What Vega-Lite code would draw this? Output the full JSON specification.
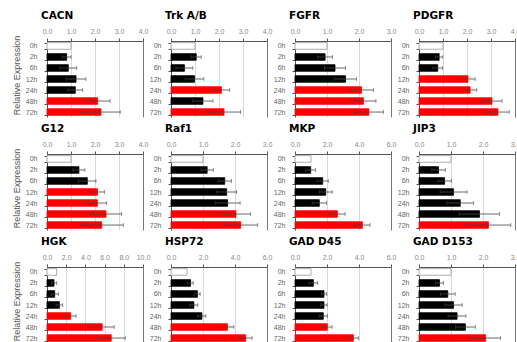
{
"$schema": "https://vega.github.io/schema/vega-lite/v6.json",
"padding": {"left": 12, "top": 10, "right": 0, "bottom": 0},
"datasets": {"d": [
{"g":"CACN","t":"0h","v":1.0,"s":"ref"},
{"g":"CACN","t":"2h","v":0.82,"lo":0.64,"hi":1.00,"s":"ns"},
{"g":"CACN","t":"6h","v":0.89,"lo":0.54,"hi":1.24,"s":"ns"},
{"g":"CACN","t":"12h","v":1.21,"lo":0.80,"hi":1.62,"s":"ns"},
{"g":"CACN","t":"24h","v":1.18,"lo":0.87,"hi":1.49,"s":"ns"},
{"g":"CACN","t":"48h","v":2.11,"lo":1.59,"hi":2.63,"s":"sig"},
{"g":"CACN","t":"72h","v":2.25,"lo":1.45,"hi":3.05,"s":"sig"},
{"g":"Trk A/B","t":"0h","v":1.0,"s":"ref"},
{"g":"Trk A/B","t":"2h","v":1.05,"lo":0.84,"hi":1.26,"s":"ns"},
{"g":"Trk A/B","t":"6h","v":0.56,"lo":0.21,"hi":0.91,"s":"ns"},
{"g":"Trk A/B","t":"12h","v":0.98,"lo":0.59,"hi":1.37,"s":"ns"},
{"g":"Trk A/B","t":"24h","v":2.10,"lo":1.75,"hi":2.45,"s":"sig"},
{"g":"Trk A/B","t":"48h","v":1.33,"lo":0.91,"hi":1.75,"s":"ns"},
{"g":"Trk A/B","t":"72h","v":2.21,"lo":1.52,"hi":2.90,"s":"sig"},
{"g":"FGFR","t":"0h","v":1.0,"s":"ref"},
{"g":"FGFR","t":"2h","v":0.94,"lo":0.71,"hi":1.17,"s":"ns"},
{"g":"FGFR","t":"6h","v":1.25,"lo":0.92,"hi":1.58,"s":"ns"},
{"g":"FGFR","t":"12h","v":1.58,"lo":1.24,"hi":1.92,"s":"ns"},
{"g":"FGFR","t":"24h","v":2.08,"lo":1.71,"hi":2.45,"s":"sig"},
{"g":"FGFR","t":"48h","v":2.14,"lo":1.75,"hi":2.53,"s":"sig"},
{"g":"FGFR","t":"72h","v":2.31,"lo":1.86,"hi":2.76,"s":"sig"},
{"g":"PDGFR","t":"0h","v":1.0,"s":"ref"},
{"g":"PDGFR","t":"2h","v":0.84,"lo":0.69,"hi":0.99,"s":"ns"},
{"g":"PDGFR","t":"6h","v":0.78,"lo":0.58,"hi":0.98,"s":"ns"},
{"g":"PDGFR","t":"12h","v":2.04,"lo":1.74,"hi":2.34,"s":"sig"},
{"g":"PDGFR","t":"24h","v":2.13,"lo":1.85,"hi":2.41,"s":"sig"},
{"g":"PDGFR","t":"48h","v":3.04,"lo":2.62,"hi":3.46,"s":"sig"},
{"g":"PDGFR","t":"72h","v":3.29,"lo":2.82,"hi":3.76,"s":"sig"},
{"g":"G12","t":"0h","v":1.0,"s":"ref"},
{"g":"G12","t":"2h","v":1.33,"lo":1.08,"hi":1.58,"s":"ns"},
{"g":"G12","t":"6h","v":1.68,"lo":1.32,"hi":2.04,"s":"ns"},
{"g":"G12","t":"12h","v":2.10,"lo":1.81,"hi":2.39,"s":"sig"},
{"g":"G12","t":"24h","v":2.10,"lo":1.71,"hi":2.49,"s":"sig"},
{"g":"G12","t":"48h","v":2.46,"lo":1.81,"hi":3.11,"s":"sig"},
{"g":"G12","t":"72h","v":2.28,"lo":1.38,"hi":3.18,"s":"sig"},
{"g":"Raf1","t":"0h","v":1.0,"s":"ref"},
{"g":"Raf1","t":"2h","v":1.13,"lo":0.94,"hi":1.32,"s":"ns"},
{"g":"Raf1","t":"6h","v":1.68,"lo":1.47,"hi":1.89,"s":"ns"},
{"g":"Raf1","t":"12h","v":1.74,"lo":1.43,"hi":2.05,"s":"ns"},
{"g":"Raf1","t":"24h","v":1.77,"lo":1.38,"hi":2.16,"s":"ns"},
{"g":"Raf1","t":"48h","v":2.03,"lo":1.57,"hi":2.49,"s":"sig"},
{"g":"Raf1","t":"72h","v":2.18,"lo":1.65,"hi":2.71,"s":"sig"},
{"g":"MKP","t":"0h","v":1.0,"s":"ref"},
{"g":"MKP","t":"2h","v":0.98,"lo":0.68,"hi":1.28,"s":"ns"},
{"g":"MKP","t":"6h","v":1.73,"lo":1.38,"hi":2.08,"s":"ns"},
{"g":"MKP","t":"12h","v":1.92,"lo":1.52,"hi":2.32,"s":"ns"},
{"g":"MKP","t":"24h","v":1.52,"lo":1.07,"hi":1.97,"s":"ns"},
{"g":"MKP","t":"48h","v":2.65,"lo":2.17,"hi":3.13,"s":"sig"},
{"g":"MKP","t":"72h","v":4.21,"lo":3.73,"hi":4.69,"s":"sig"},
{"g":"JIP3","t":"0h","v":1.0,"s":"ref"},
{"g":"JIP3","t":"2h","v":0.61,"lo":0.40,"hi":0.82,"s":"ns"},
{"g":"JIP3","t":"6h","v":0.80,"lo":0.59,"hi":1.01,"s":"ns"},
{"g":"JIP3","t":"12h","v":1.08,"lo":0.66,"hi":1.50,"s":"ns"},
{"g":"JIP3","t":"24h","v":1.29,"lo":0.87,"hi":1.71,"s":"ns"},
{"g":"JIP3","t":"48h","v":1.89,"lo":1.26,"hi":2.52,"s":"ns"},
{"g":"JIP3","t":"72h","v":2.17,"lo":1.47,"hi":2.87,"s":"sig"},
{"g":"HGK","t":"0h","v":1.0,"s":"ref"},
{"g":"HGK","t":"2h","v":0.73,"lo":0.45,"hi":1.01,"s":"ns"},
{"g":"HGK","t":"6h","v":0.80,"lo":0.42,"hi":1.18,"s":"ns"},
{"g":"HGK","t":"12h","v":1.29,"lo":0.94,"hi":1.64,"s":"ns"},
{"g":"HGK","t":"24h","v":2.47,"lo":1.91,"hi":3.03,"s":"sig"},
{"g":"HGK","t":"48h","v":5.75,"lo":4.50,"hi":7.00,"s":"sig"},
{"g":"HGK","t":"72h","v":6.69,"lo":5.23,"hi":8.15,"s":"sig"},
{"g":"HSP72","t":"0h","v":1.0,"s":"ref"},
{"g":"HSP72","t":"2h","v":1.22,"lo":1.05,"hi":1.39,"s":"ns"},
{"g":"HSP72","t":"6h","v":1.65,"lo":1.48,"hi":1.82,"s":"ns"},
{"g":"HSP72","t":"12h","v":1.43,"lo":1.18,"hi":1.68,"s":"ns"},
{"g":"HSP72","t":"24h","v":1.93,"lo":1.68,"hi":2.18,"s":"ns"},
{"g":"HSP72","t":"48h","v":3.53,"lo":3.13,"hi":3.93,"s":"sig"},
{"g":"HSP72","t":"72h","v":4.67,"lo":4.27,"hi":5.07,"s":"sig"},
{"g":"GAD D45","t":"0h","v":1.0,"s":"ref"},
{"g":"GAD D45","t":"2h","v":1.15,"lo":0.88,"hi":1.42,"s":"ns"},
{"g":"GAD D45","t":"6h","v":1.81,"lo":1.64,"hi":1.98,"s":"ns"},
{"g":"GAD D45","t":"12h","v":1.81,"lo":1.61,"hi":2.01,"s":"ns"},
{"g":"GAD D45","t":"24h","v":1.77,"lo":1.50,"hi":2.04,"s":"ns"},
{"g":"GAD D45","t":"48h","v":2.02,"lo":1.72,"hi":2.32,"s":"sig"},
{"g":"GAD D45","t":"72h","v":3.65,"lo":3.34,"hi":3.96,"s":"sig"},
{"g":"GAD D153","t":"0h","v":1.0,"s":"ref"},
{"g":"GAD D153","t":"2h","v":0.64,"lo":0.51,"hi":0.77,"s":"ns"},
{"g":"GAD D153","t":"6h","v":0.90,"lo":0.67,"hi":1.13,"s":"ns"},
{"g":"GAD D153","t":"12h","v":1.08,"lo":0.81,"hi":1.35,"s":"ns"},
{"g":"GAD D153","t":"24h","v":1.19,"lo":0.91,"hi":1.47,"s":"ns"},
{"g":"GAD D153","t":"48h","v":1.45,"lo":1.14,"hi":1.76,"s":"ns"},
{"g":"GAD D153","t":"72h","v":2.08,"lo":1.61,"hi":2.55,"s":"sig"}
]},
"data": {"name": "d"},
"config": {
 "font": "Liberation Sans",
 "view": {"stroke": null},
 "title": {"anchor": "start", "frame": "group", "font": "DejaVu Sans", "fontSize": 10.5, "fontWeight": "bold", "color": "#000", "dx": -6, "offset": 6},
 "axisX": {"title": null, "format": ".1f", "domainColor": "#555", "tickColor": "#555", "tickSize": 3, "labelFontSize": 7, "labelColor": "#888", "labelPadding": 4, "labelOverlap": false, "labelFlush": false, "labelFont": "Liberation Sans Narrow, Liberation Sans", "grid": true, "gridWidth": 0.8},
 "axisY": {"title": null, "domainColor": "#555", "tickColor": "#555", "tickSize": 3, "tickBand": "extent", "labelFontSize": 7, "labelColor": "#666", "labelPadding": 7, "labelFont": "Liberation Sans Narrow, Liberation Sans", "titleFontSize": 9, "titleFontWeight": "normal", "titleColor": "#555", "titlePadding": 4, "titleY": 34, "grid": false},
 "bar": {"strokeWidth": 0.8},
 "rule": {"color": "#444", "strokeWidth": 0.8},
 "tick": {"color": "#444", "thickness": 0.8, "size": 4}
},
"spacing": 6,
"resolve": {"scale": {"x": "independent", "y": "independent", "fill": "shared", "stroke": "shared"}},
"vconcat": [
{"hconcat": [
{"title": "CACN", "width": 96, "height": 76, "transform": [{"filter": "datum.g === 'CACN'"}],
 "encoding": {"y": {"field": "t", "type": "ordinal", "sort": ["0h","2h","6h","12h","24h","48h","72h"], "scale": {"paddingInner": 0.4, "paddingOuter": 0.15}, "axis": {"title": "Relative Expression"}}},
 "layer": [
  {"mark": "bar", "encoding": {"x": {"field": "v", "type": "quantitative", "scale": {"domain": [0,4]}, "axis": {"orient": "top", "values": [0,1,2,3,4], "gridColor": {"condition": {"test": "datum.value === 4", "value": "#555"}, "value": "#cfcfcf"}}},
   "fill": {"field": "s", "type": "nominal", "scale": {"domain": ["ref","ns","sig"], "range": ["#ffffff","#000000","#ff0000"]}, "legend": null},
   "stroke": {"field": "s", "type": "nominal", "scale": {"domain": ["ref","ns","sig"], "range": ["#999999","#000000","#ff0000"]}, "legend": null}}},
  {"transform": [{"filter": "isValid(datum.hi)"}], "mark": "rule", "encoding": {"x": {"field": "lo", "type": "quantitative", "scale": {"domain": [0,4]}, "axis": {"orient": "top", "values": [0,1,2,3,4], "gridColor": {"condition": {"test": "datum.value === 4", "value": "#555"}, "value": "#cfcfcf"}}}, "x2": {"field": "hi"}}},
  {"transform": [{"filter": "isValid(datum.hi)"}], "mark": "tick", "encoding": {"x": {"field": "lo", "type": "quantitative", "scale": {"domain": [0,4]}, "axis": {"orient": "top", "values": [0,1,2,3,4], "gridColor": {"condition": {"test": "datum.value === 4", "value": "#555"}, "value": "#cfcfcf"}}}}},
  {"transform": [{"filter": "isValid(datum.hi)"}], "mark": "tick", "encoding": {"x": {"field": "hi", "type": "quantitative", "scale": {"domain": [0,4]}, "axis": {"orient": "top", "values": [0,1,2,3,4], "gridColor": {"condition": {"test": "datum.value === 4", "value": "#555"}, "value": "#cfcfcf"}}}}}
 ]},
{"title": "Trk A/B", "width": 96, "height": 76, "transform": [{"filter": "datum.g === 'Trk A/B'"}],
 "encoding": {"y": {"field": "t", "type": "ordinal", "sort": ["0h","2h","6h","12h","24h","48h","72h"], "scale": {"paddingInner": 0.4, "paddingOuter": 0.15}}},
 "layer": [
  {"mark": "bar", "encoding": {"x": {"field": "v", "type": "quantitative", "scale": {"domain": [0,4]}, "axis": {"orient": "top", "values": [0,1,2,3,4], "gridColor": {"condition": {"test": "datum.value === 4", "value": "#555"}, "value": "#cfcfcf"}}},
   "fill": {"field": "s", "type": "nominal", "scale": {"domain": ["ref","ns","sig"], "range": ["#ffffff","#000000","#ff0000"]}, "legend": null},
   "stroke": {"field": "s", "type": "nominal", "scale": {"domain": ["ref","ns","sig"], "range": ["#999999","#000000","#ff0000"]}, "legend": null}}},
  {"transform": [{"filter": "isValid(datum.hi)"}], "mark": "rule", "encoding": {"x": {"field": "lo", "type": "quantitative", "scale": {"domain": [0,4]}, "axis": {"orient": "top", "values": [0,1,2,3,4], "gridColor": {"condition": {"test": "datum.value === 4", "value": "#555"}, "value": "#cfcfcf"}}}, "x2": {"field": "hi"}}},
  {"transform": [{"filter": "isValid(datum.hi)"}], "mark": "tick", "encoding": {"x": {"field": "lo", "type": "quantitative", "scale": {"domain": [0,4]}, "axis": {"orient": "top", "values": [0,1,2,3,4], "gridColor": {"condition": {"test": "datum.value === 4", "value": "#555"}, "value": "#cfcfcf"}}}}},
  {"transform": [{"filter": "isValid(datum.hi)"}], "mark": "tick", "encoding": {"x": {"field": "hi", "type": "quantitative", "scale": {"domain": [0,4]}, "axis": {"orient": "top", "values": [0,1,2,3,4], "gridColor": {"condition": {"test": "datum.value === 4", "value": "#555"}, "value": "#cfcfcf"}}}}}
 ]},
{"title": "FGFR", "width": 96, "height": 76, "transform": [{"filter": "datum.g === 'FGFR'"}],
 "encoding": {"y": {"field": "t", "type": "ordinal", "sort": ["0h","2h","6h","12h","24h","48h","72h"], "scale": {"paddingInner": 0.4, "paddingOuter": 0.15}}},
 "layer": [
  {"mark": "bar", "encoding": {"x": {"field": "v", "type": "quantitative", "scale": {"domain": [0,3]}, "axis": {"orient": "top", "values": [0,1,2,3], "gridColor": {"condition": {"test": "datum.value === 3", "value": "#555"}, "value": "#cfcfcf"}}},
   "fill": {"field": "s", "type": "nominal", "scale": {"domain": ["ref","ns","sig"], "range": ["#ffffff","#000000","#ff0000"]}, "legend": null},
   "stroke": {"field": "s", "type": "nominal", "scale": {"domain": ["ref","ns","sig"], "range": ["#999999","#000000","#ff0000"]}, "legend": null}}},
  {"transform": [{"filter": "isValid(datum.hi)"}], "mark": "rule", "encoding": {"x": {"field": "lo", "type": "quantitative", "scale": {"domain": [0,3]}, "axis": {"orient": "top", "values": [0,1,2,3], "gridColor": {"condition": {"test": "datum.value === 3", "value": "#555"}, "value": "#cfcfcf"}}}, "x2": {"field": "hi"}}},
  {"transform": [{"filter": "isValid(datum.hi)"}], "mark": "tick", "encoding": {"x": {"field": "lo", "type": "quantitative", "scale": {"domain": [0,3]}, "axis": {"orient": "top", "values": [0,1,2,3], "gridColor": {"condition": {"test": "datum.value === 3", "value": "#555"}, "value": "#cfcfcf"}}}}},
  {"transform": [{"filter": "isValid(datum.hi)"}], "mark": "tick", "encoding": {"x": {"field": "hi", "type": "quantitative", "scale": {"domain": [0,3]}, "axis": {"orient": "top", "values": [0,1,2,3], "gridColor": {"condition": {"test": "datum.value === 3", "value": "#555"}, "value": "#cfcfcf"}}}}}
 ]},
{"title": "PDGFR", "width": 96, "height": 76, "transform": [{"filter": "datum.g === 'PDGFR'"}],
 "encoding": {"y": {"field": "t", "type": "ordinal", "sort": ["0h","2h","6h","12h","24h","48h","72h"], "scale": {"paddingInner": 0.4, "paddingOuter": 0.15}}},
 "layer": [
  {"mark": "bar", "encoding": {"x": {"field": "v", "type": "quantitative", "scale": {"domain": [0,4]}, "axis": {"orient": "top", "values": [0,1,2,3,4], "gridColor": {"condition": {"test": "datum.value === 4", "value": "#555"}, "value": "#cfcfcf"}}},
   "fill": {"field": "s", "type": "nominal", "scale": {"domain": ["ref","ns","sig"], "range": ["#ffffff","#000000","#ff0000"]}, "legend": null},
   "stroke": {"field": "s", "type": "nominal", "scale": {"domain": ["ref","ns","sig"], "range": ["#999999","#000000","#ff0000"]}, "legend": null}}},
  {"transform": [{"filter": "isValid(datum.hi)"}], "mark": "rule", "encoding": {"x": {"field": "lo", "type": "quantitative", "scale": {"domain": [0,4]}, "axis": {"orient": "top", "values": [0,1,2,3,4], "gridColor": {"condition": {"test": "datum.value === 4", "value": "#555"}, "value": "#cfcfcf"}}}, "x2": {"field": "hi"}}},
  {"transform": [{"filter": "isValid(datum.hi)"}], "mark": "tick", "encoding": {"x": {"field": "lo", "type": "quantitative", "scale": {"domain": [0,4]}, "axis": {"orient": "top", "values": [0,1,2,3,4], "gridColor": {"condition": {"test": "datum.value === 4", "value": "#555"}, "value": "#cfcfcf"}}}}},
  {"transform": [{"filter": "isValid(datum.hi)"}], "mark": "tick", "encoding": {"x": {"field": "hi", "type": "quantitative", "scale": {"domain": [0,4]}, "axis": {"orient": "top", "values": [0,1,2,3,4], "gridColor": {"condition": {"test": "datum.value === 4", "value": "#555"}, "value": "#cfcfcf"}}}}}
 ]}
], "spacing": 28, "bounds": "flush", "resolve": {"scale": {"x": "independent", "y": "independent"}}},
{"hconcat": [
{"title": "G12", "width": 96, "height": 76, "transform": [{"filter": "datum.g === 'G12'"}],
 "encoding": {"y": {"field": "t", "type": "ordinal", "sort": ["0h","2h","6h","12h","24h","48h","72h"], "scale": {"paddingInner": 0.4, "paddingOuter": 0.15}, "axis": {"title": "Relative Expression"}}},
 "layer": [
  {"mark": "bar", "encoding": {"x": {"field": "v", "type": "quantitative", "scale": {"domain": [0,4]}, "axis": {"orient": "top", "values": [0,1,2,3,4], "gridColor": {"condition": {"test": "datum.value === 4", "value": "#555"}, "value": "#cfcfcf"}}},
   "fill": {"field": "s", "type": "nominal", "scale": {"domain": ["ref","ns","sig"], "range": ["#ffffff","#000000","#ff0000"]}, "legend": null},
   "stroke": {"field": "s", "type": "nominal", "scale": {"domain": ["ref","ns","sig"], "range": ["#999999","#000000","#ff0000"]}, "legend": null}}},
  {"transform": [{"filter": "isValid(datum.hi)"}], "mark": "rule", "encoding": {"x": {"field": "lo", "type": "quantitative", "scale": {"domain": [0,4]}, "axis": {"orient": "top", "values": [0,1,2,3,4], "gridColor": {"condition": {"test": "datum.value === 4", "value": "#555"}, "value": "#cfcfcf"}}}, "x2": {"field": "hi"}}},
  {"transform": [{"filter": "isValid(datum.hi)"}], "mark": "tick", "encoding": {"x": {"field": "lo", "type": "quantitative", "scale": {"domain": [0,4]}, "axis": {"orient": "top", "values": [0,1,2,3,4], "gridColor": {"condition": {"test": "datum.value === 4", "value": "#555"}, "value": "#cfcfcf"}}}}},
  {"transform": [{"filter": "isValid(datum.hi)"}], "mark": "tick", "encoding": {"x": {"field": "hi", "type": "quantitative", "scale": {"domain": [0,4]}, "axis": {"orient": "top", "values": [0,1,2,3,4], "gridColor": {"condition": {"test": "datum.value === 4", "value": "#555"}, "value": "#cfcfcf"}}}}}
 ]},
{"title": "Raf1", "width": 96, "height": 76, "transform": [{"filter": "datum.g === 'Raf1'"}],
 "encoding": {"y": {"field": "t", "type": "ordinal", "sort": ["0h","2h","6h","12h","24h","48h","72h"], "scale": {"paddingInner": 0.4, "paddingOuter": 0.15}}},
 "layer": [
  {"mark": "bar", "encoding": {"x": {"field": "v", "type": "quantitative", "scale": {"domain": [0,3]}, "axis": {"orient": "top", "values": [0,1,2,3], "gridColor": {"condition": {"test": "datum.value === 3", "value": "#555"}, "value": "#cfcfcf"}}},
   "fill": {"field": "s", "type": "nominal", "scale": {"domain": ["ref","ns","sig"], "range": ["#ffffff","#000000","#ff0000"]}, "legend": null},
   "stroke": {"field": "s", "type": "nominal", "scale": {"domain": ["ref","ns","sig"], "range": ["#999999","#000000","#ff0000"]}, "legend": null}}},
  {"transform": [{"filter": "isValid(datum.hi)"}], "mark": "rule", "encoding": {"x": {"field": "lo", "type": "quantitative", "scale": {"domain": [0,3]}, "axis": {"orient": "top", "values": [0,1,2,3], "gridColor": {"condition": {"test": "datum.value === 3", "value": "#555"}, "value": "#cfcfcf"}}}, "x2": {"field": "hi"}}},
  {"transform": [{"filter": "isValid(datum.hi)"}], "mark": "tick", "encoding": {"x": {"field": "lo", "type": "quantitative", "scale": {"domain": [0,3]}, "axis": {"orient": "top", "values": [0,1,2,3], "gridColor": {"condition": {"test": "datum.value === 3", "value": "#555"}, "value": "#cfcfcf"}}}}},
  {"transform": [{"filter": "isValid(datum.hi)"}], "mark": "tick", "encoding": {"x": {"field": "hi", "type": "quantitative", "scale": {"domain": [0,3]}, "axis": {"orient": "top", "values": [0,1,2,3], "gridColor": {"condition": {"test": "datum.value === 3", "value": "#555"}, "value": "#cfcfcf"}}}}}
 ]},
{"title": "MKP", "width": 96, "height": 76, "transform": [{"filter": "datum.g === 'MKP'"}],
 "encoding": {"y": {"field": "t", "type": "ordinal", "sort": ["0h","2h","6h","12h","24h","48h","72h"], "scale": {"paddingInner": 0.4, "paddingOuter": 0.15}}},
 "layer": [
  {"mark": "bar", "encoding": {"x": {"field": "v", "type": "quantitative", "scale": {"domain": [0,6]}, "axis": {"orient": "top", "values": [0,2,4,6], "gridColor": {"condition": {"test": "datum.value === 6", "value": "#555"}, "value": "#cfcfcf"}}},
   "fill": {"field": "s", "type": "nominal", "scale": {"domain": ["ref","ns","sig"], "range": ["#ffffff","#000000","#ff0000"]}, "legend": null},
   "stroke": {"field": "s", "type": "nominal", "scale": {"domain": ["ref","ns","sig"], "range": ["#999999","#000000","#ff0000"]}, "legend": null}}},
  {"transform": [{"filter": "isValid(datum.hi)"}], "mark": "rule", "encoding": {"x": {"field": "lo", "type": "quantitative", "scale": {"domain": [0,6]}, "axis": {"orient": "top", "values": [0,2,4,6], "gridColor": {"condition": {"test": "datum.value === 6", "value": "#555"}, "value": "#cfcfcf"}}}, "x2": {"field": "hi"}}},
  {"transform": [{"filter": "isValid(datum.hi)"}], "mark": "tick", "encoding": {"x": {"field": "lo", "type": "quantitative", "scale": {"domain": [0,6]}, "axis": {"orient": "top", "values": [0,2,4,6], "gridColor": {"condition": {"test": "datum.value === 6", "value": "#555"}, "value": "#cfcfcf"}}}}},
  {"transform": [{"filter": "isValid(datum.hi)"}], "mark": "tick", "encoding": {"x": {"field": "hi", "type": "quantitative", "scale": {"domain": [0,6]}, "axis": {"orient": "top", "values": [0,2,4,6], "gridColor": {"condition": {"test": "datum.value === 6", "value": "#555"}, "value": "#cfcfcf"}}}}}
 ]},
{"title": "JIP3", "width": 96, "height": 76, "transform": [{"filter": "datum.g === 'JIP3'"}],
 "encoding": {"y": {"field": "t", "type": "ordinal", "sort": ["0h","2h","6h","12h","24h","48h","72h"], "scale": {"paddingInner": 0.4, "paddingOuter": 0.15}}},
 "layer": [
  {"mark": "bar", "encoding": {"x": {"field": "v", "type": "quantitative", "scale": {"domain": [0,3]}, "axis": {"orient": "top", "values": [0,1,2,3], "gridColor": {"condition": {"test": "datum.value === 3", "value": "#555"}, "value": "#cfcfcf"}}},
   "fill": {"field": "s", "type": "nominal", "scale": {"domain": ["ref","ns","sig"], "range": ["#ffffff","#000000","#ff0000"]}, "legend": null},
   "stroke": {"field": "s", "type": "nominal", "scale": {"domain": ["ref","ns","sig"], "range": ["#999999","#000000","#ff0000"]}, "legend": null}}},
  {"transform": [{"filter": "isValid(datum.hi)"}], "mark": "rule", "encoding": {"x": {"field": "lo", "type": "quantitative", "scale": {"domain": [0,3]}, "axis": {"orient": "top", "values": [0,1,2,3], "gridColor": {"condition": {"test": "datum.value === 3", "value": "#555"}, "value": "#cfcfcf"}}}, "x2": {"field": "hi"}}},
  {"transform": [{"filter": "isValid(datum.hi)"}], "mark": "tick", "encoding": {"x": {"field": "lo", "type": "quantitative", "scale": {"domain": [0,3]}, "axis": {"orient": "top", "values": [0,1,2,3], "gridColor": {"condition": {"test": "datum.value === 3", "value": "#555"}, "value": "#cfcfcf"}}}}},
  {"transform": [{"filter": "isValid(datum.hi)"}], "mark": "tick", "encoding": {"x": {"field": "hi", "type": "quantitative", "scale": {"domain": [0,3]}, "axis": {"orient": "top", "values": [0,1,2,3], "gridColor": {"condition": {"test": "datum.value === 3", "value": "#555"}, "value": "#cfcfcf"}}}}}
 ]}
], "spacing": 28, "bounds": "flush", "resolve": {"scale": {"x": "independent", "y": "independent"}}},
{"hconcat": [
{"title": "HGK", "width": 96, "height": 76, "transform": [{"filter": "datum.g === 'HGK'"}],
 "encoding": {"y": {"field": "t", "type": "ordinal", "sort": ["0h","2h","6h","12h","24h","48h","72h"], "scale": {"paddingInner": 0.4, "paddingOuter": 0.15}, "axis": {"title": "Relative Expression"}}},
 "layer": [
  {"mark": "bar", "encoding": {"x": {"field": "v", "type": "quantitative", "scale": {"domain": [0,10]}, "axis": {"orient": "top", "values": [0,2,4,6,8,10], "gridColor": {"condition": {"test": "datum.value === 10", "value": "#555"}, "value": "#cfcfcf"}}},
   "fill": {"field": "s", "type": "nominal", "scale": {"domain": ["ref","ns","sig"], "range": ["#ffffff","#000000","#ff0000"]}, "legend": null},
   "stroke": {"field": "s", "type": "nominal", "scale": {"domain": ["ref","ns","sig"], "range": ["#999999","#000000","#ff0000"]}, "legend": null}}},
  {"transform": [{"filter": "isValid(datum.hi)"}], "mark": "rule", "encoding": {"x": {"field": "lo", "type": "quantitative", "scale": {"domain": [0,10]}, "axis": {"orient": "top", "values": [0,2,4,6,8,10], "gridColor": {"condition": {"test": "datum.value === 10", "value": "#555"}, "value": "#cfcfcf"}}}, "x2": {"field": "hi"}}},
  {"transform": [{"filter": "isValid(datum.hi)"}], "mark": "tick", "encoding": {"x": {"field": "lo", "type": "quantitative", "scale": {"domain": [0,10]}, "axis": {"orient": "top", "values": [0,2,4,6,8,10], "gridColor": {"condition": {"test": "datum.value === 10", "value": "#555"}, "value": "#cfcfcf"}}}}},
  {"transform": [{"filter": "isValid(datum.hi)"}], "mark": "tick", "encoding": {"x": {"field": "hi", "type": "quantitative", "scale": {"domain": [0,10]}, "axis": {"orient": "top", "values": [0,2,4,6,8,10], "gridColor": {"condition": {"test": "datum.value === 10", "value": "#555"}, "value": "#cfcfcf"}}}}}
 ]},
{"title": "HSP72", "width": 96, "height": 76, "transform": [{"filter": "datum.g === 'HSP72'"}],
 "encoding": {"y": {"field": "t", "type": "ordinal", "sort": ["0h","2h","6h","12h","24h","48h","72h"], "scale": {"paddingInner": 0.4, "paddingOuter": 0.15}}},
 "layer": [
  {"mark": "bar", "encoding": {"x": {"field": "v", "type": "quantitative", "scale": {"domain": [0,6]}, "axis": {"orient": "top", "values": [0,2,4,6], "gridColor": {"condition": {"test": "datum.value === 6", "value": "#555"}, "value": "#cfcfcf"}}},
   "fill": {"field": "s", "type": "nominal", "scale": {"domain": ["ref","ns","sig"], "range": ["#ffffff","#000000","#ff0000"]}, "legend": null},
   "stroke": {"field": "s", "type": "nominal", "scale": {"domain": ["ref","ns","sig"], "range": ["#999999","#000000","#ff0000"]}, "legend": null}}},
  {"transform": [{"filter": "isValid(datum.hi)"}], "mark": "rule", "encoding": {"x": {"field": "lo", "type": "quantitative", "scale": {"domain": [0,6]}, "axis": {"orient": "top", "values": [0,2,4,6], "gridColor": {"condition": {"test": "datum.value === 6", "value": "#555"}, "value": "#cfcfcf"}}}, "x2": {"field": "hi"}}},
  {"transform": [{"filter": "isValid(datum.hi)"}], "mark": "tick", "encoding": {"x": {"field": "lo", "type": "quantitative", "scale": {"domain": [0,6]}, "axis": {"orient": "top", "values": [0,2,4,6], "gridColor": {"condition": {"test": "datum.value === 6", "value": "#555"}, "value": "#cfcfcf"}}}}},
  {"transform": [{"filter": "isValid(datum.hi)"}], "mark": "tick", "encoding": {"x": {"field": "hi", "type": "quantitative", "scale": {"domain": [0,6]}, "axis": {"orient": "top", "values": [0,2,4,6], "gridColor": {"condition": {"test": "datum.value === 6", "value": "#555"}, "value": "#cfcfcf"}}}}}
 ]},
{"title": "GAD D45", "width": 96, "height": 76, "transform": [{"filter": "datum.g === 'GAD D45'"}],
 "encoding": {"y": {"field": "t", "type": "ordinal", "sort": ["0h","2h","6h","12h","24h","48h","72h"], "scale": {"paddingInner": 0.4, "paddingOuter": 0.15}}},
 "layer": [
  {"mark": "bar", "encoding": {"x": {"field": "v", "type": "quantitative", "scale": {"domain": [0,6]}, "axis": {"orient": "top", "values": [0,2,4,6], "gridColor": {"condition": {"test": "datum.value === 6", "value": "#555"}, "value": "#cfcfcf"}}},
   "fill": {"field": "s", "type": "nominal", "scale": {"domain": ["ref","ns","sig"], "range": ["#ffffff","#000000","#ff0000"]}, "legend": null},
   "stroke": {"field": "s", "type": "nominal", "scale": {"domain": ["ref","ns","sig"], "range": ["#999999","#000000","#ff0000"]}, "legend": null}}},
  {"transform": [{"filter": "isValid(datum.hi)"}], "mark": "rule", "encoding": {"x": {"field": "lo", "type": "quantitative", "scale": {"domain": [0,6]}, "axis": {"orient": "top", "values": [0,2,4,6], "gridColor": {"condition": {"test": "datum.value === 6", "value": "#555"}, "value": "#cfcfcf"}}}, "x2": {"field": "hi"}}},
  {"transform": [{"filter": "isValid(datum.hi)"}], "mark": "tick", "encoding": {"x": {"field": "lo", "type": "quantitative", "scale": {"domain": [0,6]}, "axis": {"orient": "top", "values": [0,2,4,6], "gridColor": {"condition": {"test": "datum.value === 6", "value": "#555"}, "value": "#cfcfcf"}}}}},
  {"transform": [{"filter": "isValid(datum.hi)"}], "mark": "tick", "encoding": {"x": {"field": "hi", "type": "quantitative", "scale": {"domain": [0,6]}, "axis": {"orient": "top", "values": [0,2,4,6], "gridColor": {"condition": {"test": "datum.value === 6", "value": "#555"}, "value": "#cfcfcf"}}}}}
 ]},
{"title": "GAD D153", "width": 96, "height": 76, "transform": [{"filter": "datum.g === 'GAD D153'"}],
 "encoding": {"y": {"field": "t", "type": "ordinal", "sort": ["0h","2h","6h","12h","24h","48h","72h"], "scale": {"paddingInner": 0.4, "paddingOuter": 0.15}}},
 "layer": [
  {"mark": "bar", "encoding": {"x": {"field": "v", "type": "quantitative", "scale": {"domain": [0,3]}, "axis": {"orient": "top", "values": [0,1,2,3], "gridColor": {"condition": {"test": "datum.value === 3", "value": "#555"}, "value": "#cfcfcf"}}},
   "fill": {"field": "s", "type": "nominal", "scale": {"domain": ["ref","ns","sig"], "range": ["#ffffff","#000000","#ff0000"]}, "legend": null},
   "stroke": {"field": "s", "type": "nominal", "scale": {"domain": ["ref","ns","sig"], "range": ["#999999","#000000","#ff0000"]}, "legend": null}}},
  {"transform": [{"filter": "isValid(datum.hi)"}], "mark": "rule", "encoding": {"x": {"field": "lo", "type": "quantitative", "scale": {"domain": [0,3]}, "axis": {"orient": "top", "values": [0,1,2,3], "gridColor": {"condition": {"test": "datum.value === 3", "value": "#555"}, "value": "#cfcfcf"}}}, "x2": {"field": "hi"}}},
  {"transform": [{"filter": "isValid(datum.hi)"}], "mark": "tick", "encoding": {"x": {"field": "lo", "type": "quantitative", "scale": {"domain": [0,3]}, "axis": {"orient": "top", "values": [0,1,2,3], "gridColor": {"condition": {"test": "datum.value === 3", "value": "#555"}, "value": "#cfcfcf"}}}}},
  {"transform": [{"filter": "isValid(datum.hi)"}], "mark": "tick", "encoding": {"x": {"field": "hi", "type": "quantitative", "scale": {"domain": [0,3]}, "axis": {"orient": "top", "values": [0,1,2,3], "gridColor": {"condition": {"test": "datum.value === 3", "value": "#555"}, "value": "#cfcfcf"}}}}}
 ]}
], "spacing": 28, "bounds": "flush", "resolve": {"scale": {"x": "independent", "y": "independent"}}}
]
}
